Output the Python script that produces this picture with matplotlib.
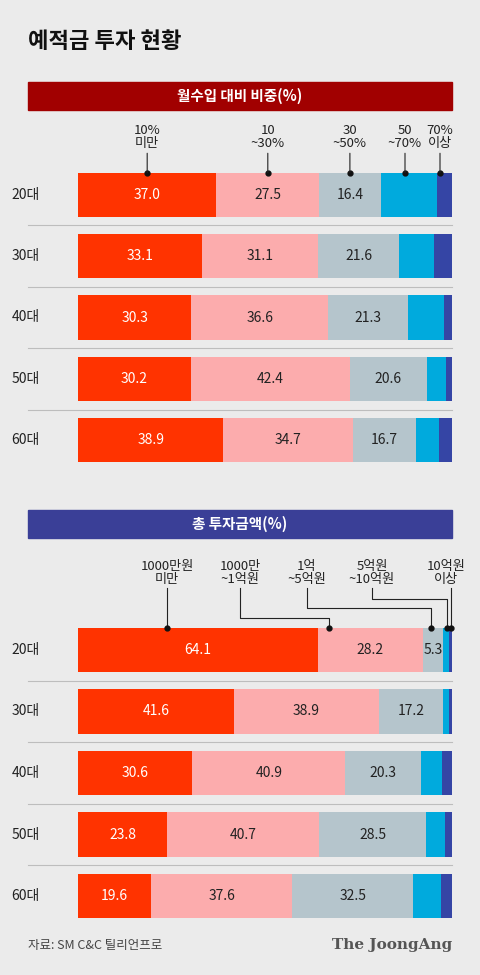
import numpy as np
import matplotlib.pyplot as plt

plt.rcParams['font.family'] = ['Noto Sans CJK KR', 'DejaVu Sans']

ages = ['20대', '30대', '40대', '50대', '60대']
colors = ['#ff3300', '#fcacad', '#b5c5cc', '#00aadd', '#3545a5']

# 월수입 대비 비중(%)
income_labels = ['10%\n미만', '10\n~30%', '30\n~50%', '50\n~70%', '70%\n이상']
income_vals = [
    [37.0, 27.5, 16.4, 15.0, 4.1],
    [33.1, 31.1, 21.6, 9.5, 4.7],
    [30.3, 36.6, 21.3, 9.6, 2.2],
    [30.2, 42.4, 20.6, 5.3, 1.5],
    [38.9, 34.7, 16.7, 6.3, 3.4],
]
# 총 투자금액(%)
amount_labels = ['1000만원\n미만', '1000만\n~1억원', '1억\n~5억원', '5억원\n~10억원', '10억원\n이상']
amount_vals = [
    [64.1, 28.2, 5.3, 1.6, 0.8],
    [41.6, 38.9, 17.2, 1.5, 0.8],
    [30.6, 40.9, 20.3, 5.6, 2.6],
    [23.8, 40.7, 28.5, 5.0, 2.0],
    [19.6, 37.6, 32.5, 7.4, 2.9],
]

W, H = 480, 975
bg = '#ebebeb'
fig = plt.figure(figsize=(W / 100, H / 100), dpi=100)
fig.patch.set_facecolor(bg)


def fx(px):
    return px / W


def fy(py):
    return 1 - py / H


fig.text(fx(28), fy(42), '예적금 투자 현황', fontsize=16, fontweight='bold', va='center', color='#111')


def header(y0, y1, color, text):
    fig.patches.append(plt.Rectangle((fx(28), fy(y1)), fx(452 - 28), (y1 - y0) / H,
                                     transform=fig.transFigure, color=color))
    fig.text(fx(240), fy((y0 + y1) / 2), text, color='white', fontsize=10.5,
             fontweight='bold', ha='center', va='center')


header(82, 110, '#a10000', '월수입 대비 비중(%)')
header(510, 538, '#3a3f97', '총 투자금액(%)')


def panel(top, bottom, vals):
    ax = fig.add_axes([fx(78), fy(bottom), fx(452 - 78), (bottom - top) / H])
    ax.set_facecolor(bg)
    ax.set_xlim(0, 100)
    ax.set_ylim(4.5, -0.5)
    data = np.array(vals)
    y = np.arange(len(ages))
    left = np.zeros(len(ages))
    for j in range(data.shape[1]):
        ax.barh(y, data[:, j], left=left, height=0.72, color=colors[j], linewidth=0)
        if j < 3:
            for i in range(len(ages)):
                ax.text(left[i] + data[i, j] / 2, y[i], f'{data[i, j]:.1f}',
                        color='white' if j == 0 else '#222', ha='center', va='center', fontsize=10)
        left += data[:, j]
    for s in ax.spines.values():
        s.set_visible(False)
    ax.set_xticks([])
    ax.set_yticks([])
    for i, a in enumerate(ages):
        ax.text(-14, i, a, ha='center', va='center', fontsize=10, color='#222', clip_on=False)
    for i in range(len(ages) - 1):
        ax.plot([-13.4, 100], [i + 0.5, i + 0.5], color='#bdbdbd', lw=0.8, clip_on=False)
    return ax


ax1 = panel(164, 471, income_vals)
ax2 = panel(619, 927, amount_vals)

px = lambda p: (p - 78) / (452 - 78) * 100

# top legend labels: centred above each segment of 20대
v = np.array(income_vals[0])
cum = np.concatenate([[0], np.cumsum(v)])
mids = (cum[:-1] + cum[1:]) / 2
lab_x = [mids[0], mids[1], mids[2], px(405), px(440)]
for k, t in enumerate(income_labels):
    ax1.annotate(t, xy=(lab_x[k], -0.36), xytext=(lab_x[k], -0.72), ha='center', va='bottom',
                 fontsize=9.5, color='#222', linespacing=1.0, annotation_clip=False,
                 arrowprops=dict(arrowstyle='-', color='#222', lw=0.8, shrinkA=0, shrinkB=0))
    ax1.plot(lab_x[k], -0.36, 'o', color='#111', ms=3.5, clip_on=False)

# bottom legend labels with elbow connectors
v = np.array(amount_vals[0])
cum = np.concatenate([[0], np.cumsum(v)])
text_x = [px(167), px(240), px(307), px(372), px(446)]
dot_x = [px(167), cum[1] + 3, cum[2] + 2.2, cum[3] + 1.1, cum[4] + 0.6]
bend_y = [None, -0.52, -0.68, -0.82, None]
top_y = -1.03
for k, t in enumerate(amount_labels):
    ax2.text(text_x[k], top_y, t, ha='center', va='bottom', fontsize=9.5, color='#222',
             linespacing=1.0, clip_on=False)
    if bend_y[k] is None:
        xs, ys = [dot_x[k], dot_x[k]], [top_y + 0.03, -0.36]
    else:
        xs = [text_x[k], text_x[k], dot_x[k], dot_x[k]]
        ys = [top_y + 0.03, bend_y[k], bend_y[k], -0.36]
    ax2.plot(xs, ys, color='#222', lw=0.8, clip_on=False)
    ax2.plot(dot_x[k], -0.36, 'o', color='#111', ms=3.5, clip_on=False)

fig.text(fx(28), fy(945), '자료: SM C&C 틸리언프로', fontsize=9, va='center', color='#444')
fig.text(fx(452), fy(945), 'The JoongAng', fontsize=11, fontweight='bold', ha='right', va='center',
         color='#555', family=['DejaVu Serif'])

fig.savefig('out.png', dpi=100, facecolor=bg)
